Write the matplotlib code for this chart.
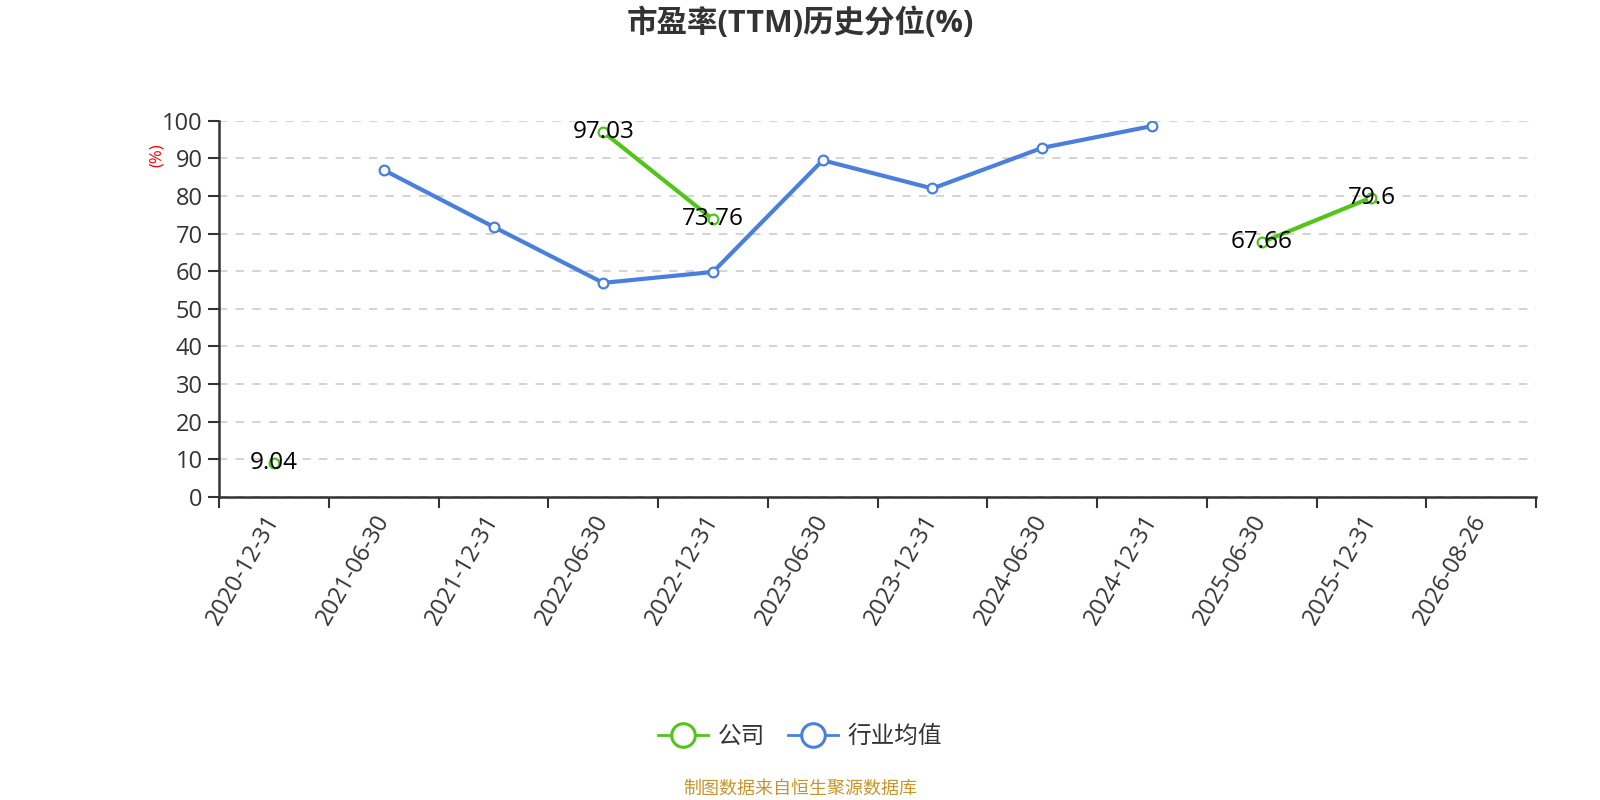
import matplotlib
matplotlib.use("Agg")
import matplotlib.pyplot as plt
from matplotlib.lines import Line2D
import numpy as np

plt.rcParams['font.family'] = ['Open Sans', 'Noto Sans CJK SC', 'DejaVu Sans']

categories = ['2020-12-31', '2021-06-30', '2021-12-31', '2022-06-30', '2022-12-31',
              '2023-06-30', '2023-12-31', '2024-06-30', '2024-12-31', '2025-06-30',
              '2025-12-31', '2026-08-26']
company = [9.04, None, None, 97.03, 73.76, None, None, None, None, 67.66, 79.6, None]
industry = [None, 86.9, 71.8, 56.9, 59.8, 89.5, 82.0, 92.8, 98.6, None, None, None]
yticks = [0, 10, 20, 30, 40, 50, 60, 70, 80, 90, 100]

GREEN = '#52c41a'
BLUE = '#4a7fde'
DARK = '#333333'

fig = plt.figure(figsize=(16, 8), dpi=100)
ax = fig.add_axes([0.137, 0.379, 0.823, 0.470])

x = np.arange(len(categories)) + 0.5
comp = np.array([np.nan if v is None else v for v in company], dtype=float)
ind = np.array([np.nan if v is None else v for v in industry], dtype=float)

ax.plot(x, ind, color=BLUE, lw=3, marker='o', markersize=7, markerfacecolor='white',
        markeredgecolor=BLUE, markeredgewidth=1.6, zorder=3)
ax.plot(x, comp, color=GREEN, lw=3, marker='o', markersize=7, markerfacecolor='white',
        markeredgecolor=GREEN, markeredgewidth=1.6, zorder=4)

for xi, v in zip(x, company):
    if v is not None:
        ax.text(xi, v, f'{v:g}', ha='center', va='center', fontsize=17.5, color='black', zorder=5)

ax.set_xlim(0, len(categories))
ax.set_ylim(0, 100)
ax.set_yticks(yticks)
ax.set_yticklabels([str(t) for t in yticks], fontsize=17, color=DARK)
ax.yaxis.grid(True, linestyle=(0, (5, 5)), color='#cccccc', lw=1.2)
ax.set_axisbelow(True)

ax.set_xticks(np.arange(len(categories) + 1))
ax.set_xticklabels([])
ax.set_xticks(x, minor=True)
ax.set_xticklabels(categories, minor=True, rotation=60, ha='right', va='center',
                   rotation_mode='anchor', fontsize=17, color=DARK)
ax.tick_params(axis='x', which='major', length=8, width=1.5, color=DARK, direction='out')
ax.tick_params(axis='x', which='minor', length=0, pad=14)
ax.tick_params(axis='y', length=8, width=1.5, color=DARK, pad=4)

for s in ['top', 'right']:
    ax.spines[s].set_visible(False)
for s in ['left', 'bottom']:
    ax.spines[s].set_color(DARK)
    ax.spines[s].set_linewidth(1.8)

fig.text(0.5, 0.971, '市盈率(TTM)历史分位(%)', ha='center', va='center', fontsize=22,
         fontweight='bold', color=DARK)
fig.text(0.098, 0.806, '(%)', ha='center', va='center', rotation=90, fontsize=12, color='red')

handles = [Line2D([0], [0], color=GREEN, lw=2, marker='o', markersize=17,
                  markerfacecolor='white', markeredgecolor=GREEN, markeredgewidth=2.2),
           Line2D([0], [0], color=BLUE, lw=2, marker='o', markersize=17,
                  markerfacecolor='white', markeredgecolor=BLUE, markeredgewidth=2.2)]
leg = fig.legend(handles, ['公司', '行业均值'], loc='center', bbox_to_anchor=(0.5, 0.079),
                 ncol=2, frameon=False, fontsize=17, handlelength=2.1, columnspacing=1.0,
                 handletextpad=0.4)
for t in leg.get_texts():
    t.set_color(DARK)

fig.text(0.5, 0.014, '制图数据来自恒生聚源数据库', ha='center', va='center', fontsize=13,
         color='#c8952a')

fig.savefig('out.png', dpi=100)
